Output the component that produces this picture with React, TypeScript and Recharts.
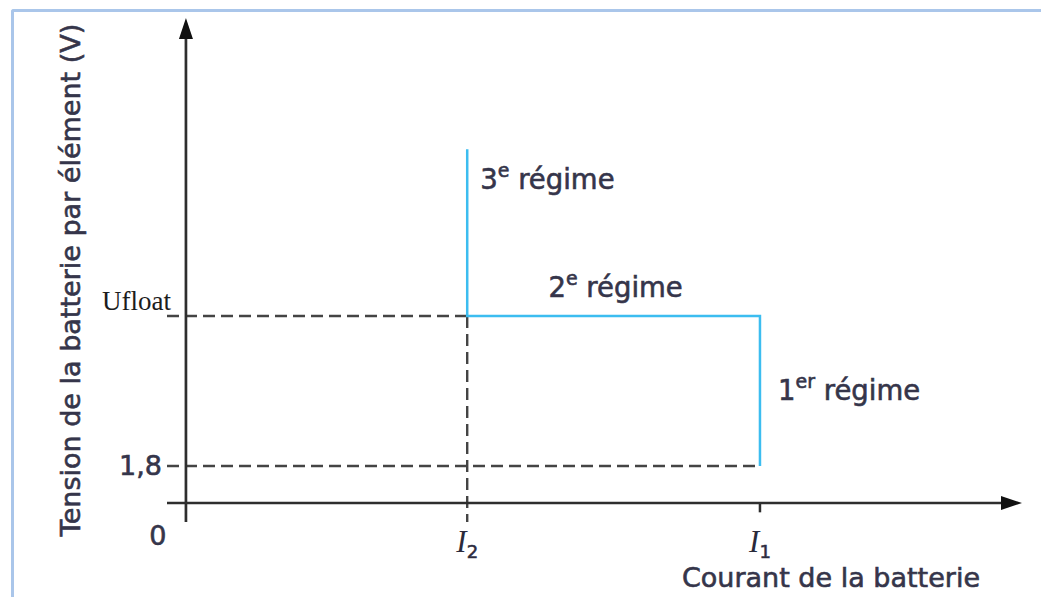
import { LineChart, Line, XAxis, YAxis, ReferenceLine, ReferenceDot } from "recharts";

// schematic values (V per element, current in units of I1)
const I2 = 0.98;
const I1 = 2.0;
const V_LOW = 1.8;
const U_FLOAT = 2.25;
const V_TOP = 2.75;
const V_AXIS = 1.689; // where the current axis crosses the voltage axis
const X_DOMAIN: [number, number] = [-0.066, 2.913];
const Y_DOMAIN: [number, number] = [1.632, 3.144];

const regimePath = [
  { i: I2, u: V_TOP },
  { i: I2, u: U_FLOAT },
  { i: I1, u: U_FLOAT },
  { i: I1, u: V_LOW },
];

const xTicks = [0, I2, I1];
const xTickSubs = ["", "2", "1"];
const yTicks = [V_LOW, U_FLOAT];
const yTickLabels = ["1,8", "Ufloat"];

const regimeNames = ["3", "2", "1"];
const regimeSups = ["e", "e", "er"];
const regimeI = [I2, (I2 + I1) / 2, I1];
const regimeU = [V_TOP, U_FLOAT, (V_LOW + U_FLOAT) / 2];

const SANS = "DejaVu Sans";
const SERIF = "Liberation Serif";
const INK = "#35354a";
const AXIS = "#2e2e2e";
const CYAN = "#3cbdf0";
const BOLDEN = { stroke: INK, strokeWidth: 0.6 };

const regimeStyle = [
  { dx: 13, dy: 40, anchor: "start" },
  { dx: 2, dy: -19, anchor: "middle" },
  { dx: 18, dy: 9, anchor: "start" },
];

function Arrow(props: any) {
  const { x1, y1, x2, y2 } = props;
  const dx = x2 - x1;
  const dy = y2 - y1;
  const len = Math.sqrt(dx * dx + dy * dy) || 1;
  const ux = dx / len;
  const uy = dy / len;
  const bx = x2 - ux * 21;
  const by = y2 - uy * 21;
  const px = -uy * 7;
  const py = ux * 7;
  return (
    <g>
      <line x1={x1} y1={y1} x2={bx} y2={by} stroke={AXIS} strokeWidth={2.7} />
      <polygon points={`${x2},${y2} ${bx + px},${by + py} ${bx - px},${by - py}`} fill="#111" />
    </g>
  );
}

function XTick({ x, y, payload, index }: any) {
  if (payload.value === 0) {
    return (
      <text x={x - 28} y={y + 23} textAnchor="middle" fontFamily={SANS} fontSize={27} fill={INK} {...BOLDEN}>0</text>
    );
  }
  return (
    <text x={x} y={y + 30} textAnchor="middle" fill="#2a2a3a">
      <tspan fontFamily={SERIF} fontStyle="italic" fontSize={31}>I</tspan>
      <tspan fontFamily={SANS} fontSize={18} dy={6} {...BOLDEN}>{xTickSubs[index]}</tspan>
    </text>
  );
}

function YTick({ x, y, index }: any) {
  if (index === 1) {
    return (
      <text x={x + 4} y={y - 6} textAnchor="end" fontFamily={SERIF} fontSize={27} fill="#1c1c1c">
        {yTickLabels[index]}
      </text>
    );
  }
  return (
    <text x={x - 5} y={y + 9} textAnchor="end" fontFamily={SANS} fontSize={27} fill={INK} {...BOLDEN}>
      {yTickLabels[index]}
    </text>
  );
}

function XTitle({ viewBox }: any) {
  const { x, y, width } = viewBox;
  return (
    <text x={x + width - 42} y={y + 65} textAnchor="end" fontFamily={SANS} fontSize={27} fill={INK} {...BOLDEN}>
      Courant de la batterie
    </text>
  );
}

function YTitle({ viewBox }: any) {
  const { x, y, width, height } = viewBox;
  const cx = x + width - 87;
  const cy = y + height / 2 + 10;
  return (
    <text x={cx} y={cy} transform={`rotate(-90 ${cx} ${cy})`} textAnchor="middle"
          fontFamily={SANS} fontSize={27} fill={INK} {...BOLDEN}>
      Tension de la batterie par élément (V)
    </text>
  );
}

function RegimeLabel({ cx, cy, k }: any) {
  const s = regimeStyle[k];
  return (
    <text x={cx + s.dx} y={cy + s.dy} textAnchor={s.anchor as any} fontFamily={SANS} fontSize={27.5}
          fill={INK} {...BOLDEN}>
      <tspan>{regimeNames[k]}</tspan>
      <tspan fontSize={19} dy={-12}>{regimeSups[k]}</tspan>
      <tspan dy={12}>{" régime"}</tspan>
    </text>
  );
}

export default function App() {
  return (
    <div style={{ position: "absolute", left: 0, top: 0, width: 1041, height: 597, background: "#fff", overflow: "hidden" }}>
      <div style={{
        position: "absolute", left: 11, top: 9, right: -20, bottom: -20,
        borderTop: "3px solid #aac6ea", borderLeft: "3px solid #aac6ea", borderTopLeftRadius: 3,
      }} />
      <div style={{ position: "absolute", left: 0, top: 0 }}>
        <LineChart width={1041} height={597} data={regimePath}
                   margin={{ top: 18, right: 19, bottom: 15, left: 67 }}>
          <XAxis type="number" dataKey="i" domain={X_DOMAIN} allowDataOverflow ticks={xTicks}
                 height={60} axisLine={false} tickLine={false} tickSize={0} tickMargin={0}
                 tick={<XTick />} interval={0} label={<XTitle />} />
          <YAxis type="number" domain={Y_DOMAIN} allowDataOverflow ticks={yTicks}
                 width={100} axisLine={false} tickLine={false} tickSize={0} tickMargin={0}
                 tick={<YTick />} interval={0} label={<YTitle />} />

          <ReferenceLine segment={[{ x: X_DOMAIN[0], y: U_FLOAT }, { x: I2, y: U_FLOAT }]}
                         stroke="#444" strokeWidth={2.4} strokeDasharray="12 6" />
          <ReferenceLine segment={[{ x: X_DOMAIN[0], y: V_LOW }, { x: I1, y: V_LOW }]}
                         stroke="#444" strokeWidth={2.4} strokeDasharray="12 6" />
          <ReferenceLine segment={[{ x: I2, y: U_FLOAT }, { x: I2, y: Y_DOMAIN[0] }]}
                         stroke="#444" strokeWidth={2.4} strokeDasharray="12 6" />
          <ReferenceLine segment={[{ x: I1, y: V_AXIS }, { x: I1, y: V_AXIS - 0.028 }]}
                         stroke={AXIS} strokeWidth={2.5} />

          <ReferenceLine segment={[{ x: 0, y: Y_DOMAIN[0] }, { x: 0, y: Y_DOMAIN[1] }]} shape={<Arrow />} />
          <ReferenceLine segment={[{ x: X_DOMAIN[0], y: V_AXIS }, { x: X_DOMAIN[1], y: V_AXIS }]} shape={<Arrow />} />

          <Line type="linear" dataKey="u" stroke={CYAN} strokeWidth={2.5} dot={false}
                isAnimationActive={false} />

          {regimeNames.map((n, k) => (
            <ReferenceDot key={n} x={regimeI[k]} y={regimeU[k]} r={0}
                          shape={(p: any) => <RegimeLabel cx={p.cx} cy={p.cy} k={k} />} />
          ))}
        </LineChart>
      </div>
    </div>
  );
}
